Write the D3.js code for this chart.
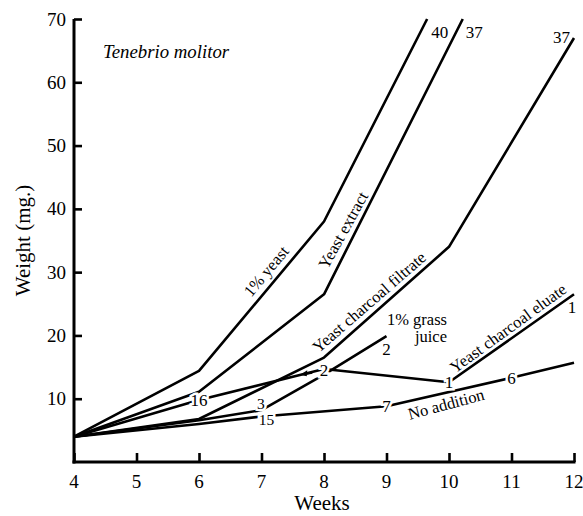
<!DOCTYPE html>
<html><head><meta charset="utf-8">
<script src="https://cdn.jsdelivr.net/npm/d3@7"></script>
<style>
body{margin:0;background:#fff;}
text{font-family:"Liberation Serif","Times New Roman",serif;fill:#000;}
</style></head>
<body><svg id="c" width="583" height="516"></svg>
<script>
// ---- data ----
const xTicks = [4,5,6,7,8,9,10,11,12];
const yTicks = [10,20,30,40,50,60,70];

const yeastWeeks = [4,6,8,9.65];
const yeastVals = [4,14.4,38,70];

const extractWeeks = [4,6,8,10.22];
const extractVals = [4,11.1,26.5,70];

const filtrateWeeks = [4,6,8,10,12];
const filtrateVals = [4,6.8,16.5,34,67];

const grassWeeks = [4,6,7,8,9];
const grassVals = [4,6.6,8.2,13.8,19.9];

const eluateWeeks = [4,6,8,10,12];
const eluateVals = [4,9.8,14.7,12.6,26.5];

const noneWeeks = [4,6,7,9,11,12];
const noneVals = [4,6.0,7.2,8.8,13.3,15.7];

// counts written on the lines: [week, value, text]
const countLabels = [
  [6,9.8,"16"],[8,14.6,"2"],[10,12.6,"1"],
  [6.99,9.3,"3"],[7.08,6.75,"15"],[9,8.8,"7"],[11,13.3,"6"]
];

// ---- drawing ----
const svg = d3.select("#c");
const x = d3.scaleLinear().domain([4,12]).range([74,574]);
const y = d3.scaleLinear().domain([0,70]).range([462,19]);

const series = [
  [yeastWeeks,yeastVals],[extractWeeks,extractVals],[filtrateWeeks,filtrateVals],
  [grassWeeks,grassVals],[eluateWeeks,eluateVals],[noneWeeks,noneVals]
];
const line = d3.line().x(d=>x(d[0])).y(d=>y(d[1]));
series.forEach(([w,v])=>{
  svg.append("path").attr("d",line(w.map((d,i)=>[d,v[i]])))
    .attr("fill","none").attr("stroke","#000").attr("stroke-width",2.6)
    .attr("stroke-linejoin","round");
});

// axes
const gx = svg.append("g").attr("transform",`translate(0,${y(0)})`)
  .call(d3.axisTop(x).tickValues(xTicks).tickSize(9).tickFormat(""));
gx.select(".domain").remove();
gx.selectAll("line").attr("stroke","#000").attr("stroke-width",2.6);
svg.append("line").attr("x1",x(4)-1.5).attr("x2",x(12)+1.5).attr("y1",y(0)).attr("y2",y(0))
  .attr("stroke","#000").attr("stroke-width",3);
svg.selectAll(".xl").data(xTicks).enter().append("text")
  .attr("x",d=>x(d)).attr("y",y(0)+26).attr("text-anchor","middle")
  .attr("font-size",19).text(d=>d);

const gy = svg.append("g").attr("transform",`translate(${x(4)},0)`)
  .call(d3.axisRight(y).tickValues(yTicks).tickSize(8).tickFormat(""));
gy.select(".domain").remove();
gy.selectAll("line").attr("stroke","#000").attr("stroke-width",2.6);
svg.append("line").attr("x1",x(4)).attr("x2",x(4)).attr("y1",y(70)).attr("y2",y(0)+1.5)
  .attr("stroke","#000").attr("stroke-width",3);
svg.selectAll(".yl").data(yTicks).enter().append("text")
  .attr("x",x(4)-8).attr("y",d=>y(d)+6.5).attr("text-anchor","end")
  .attr("font-size",19).text(d=>d);

svg.append("text").attr("x",x(8)-2).attr("y",510).attr("text-anchor","middle")
  .attr("font-size",21).text("Weeks");
svg.append("text").attr("transform",`translate(30,${y(35)}) rotate(-90)`)
  .attr("text-anchor","middle").attr("font-size",21).text("Weight (mg.)");

svg.append("text").attr("x",103).attr("y",58).attr("font-size",18.8)
  .attr("font-style","italic").text("Tenebrio molitor");

// count labels on lines with white halo
countLabels.forEach(([w,v,t])=>{
  svg.append("text").attr("x",x(w)).attr("y",y(v)).attr("dy","0.35em")
    .attr("text-anchor","middle").attr("font-size",t==="3"||t==="15"?15.5:17)
    .attr("stroke","#fff").attr("stroke-width",5).attr("paint-order","stroke")
    .text(t);
});
// small arrow next to "2" on eluate line
{
  const w0 = 7.62, v0 = eluateVals[1] + (w0-6)/2*(eluateVals[2]-eluateVals[1]);
  const tx = x(w0), ty = y(v0);
  svg.append("path").attr("d",`M${tx},${ty} l7,-4.5 l-0.5,6 z`).attr("fill","#000");
  svg.append("line").attr("x1",tx+4).attr("y1",ty-0.5).attr("x2",tx+12).attr("y2",ty-2)
    .attr("stroke","#000").attr("stroke-width",2);
}

// end labels
const endLabel = (px,py,t,anchor)=>svg.append("text").attr("x",px).attr("y",py)
  .attr("text-anchor",anchor).attr("font-size",17).text(t);
endLabel(x(yeastWeeks[3])+4, y(70)+19, "40","start");
endLabel(x(extractWeeks[3])+3, y(70)+19, "37","start");
endLabel(x(12)-4, y(filtrateVals[4])+5, "37","end");
endLabel(x(12)-2, y(eluateVals[4])+19, "1","middle");
endLabel(x(9), y(grassVals[4])+19, "2","middle");

// series names
const rotLabel = (cx,cy,ang,t)=>svg.append("text")
  .attr("transform",`translate(${cx},${cy}) rotate(${ang})`)
  .attr("text-anchor","middle").attr("dy","0.35em").attr("font-size",16.5).text(t);
rotLabel(266,271,-50,"1% yeast");
rotLabel(343,230,-61,"Yeast extract");
rotLabel(369,302,-41,"Yeast charcoal filtrate");
rotLabel(508,328,-36,"Yeast charcoal eluate");
rotLabel(446,404,-15,"No addition");
svg.append("text").attr("x",447).attr("y",325).attr("text-anchor","end").attr("font-size",16.5).text("1% grass");
svg.append("text").attr("x",447).attr("y",342).attr("text-anchor","end").attr("font-size",16.5).text("juice");
</script></body></html>
